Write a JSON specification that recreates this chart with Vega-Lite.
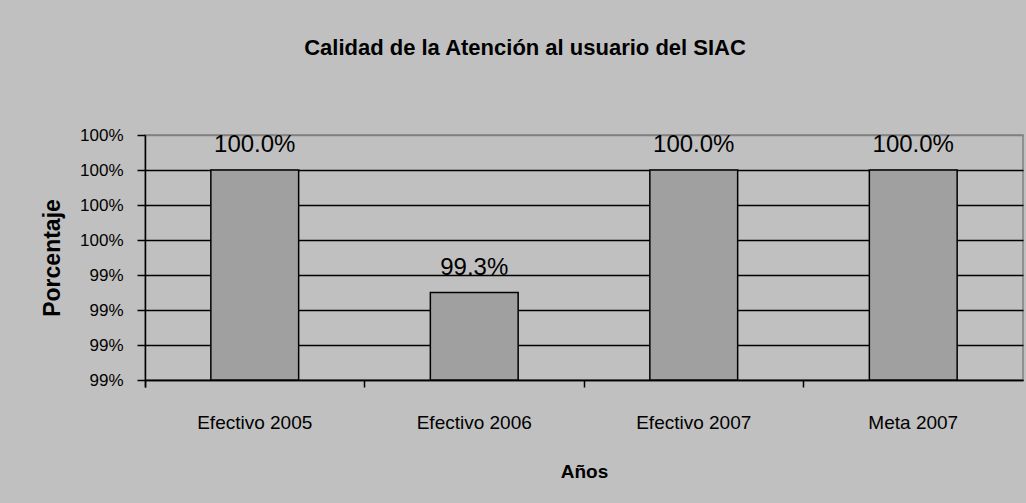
{
  "$schema": "https://vega.github.io/schema/vega-lite/v6.json",
  "width": 878,
  "height": 245,
  "autosize": {"type": "none"},
  "padding": {"left": 145, "top": 135, "right": 3, "bottom": 123},
  "background": "#c0c0c0",
  "config": {
    "font": "Liberation Sans",
    "view": {"stroke": "#808080", "strokeWidth": 1.5},
    "axis": {"labelColor": "black", "titleColor": "black", "domainColor": "black", "tickColor": "black", "domainWidth": 1.5, "tickWidth": 1.5}
  },
  "title": {
    "text": "Calidad de la Atención al usuario del SIAC",
    "fontSize": 22,
    "fontWeight": "bold",
    "color": "black",
    "anchor": "middle",
    "dx": -59,
    "baseline": "alphabetic",
    "offset": 49
  },
  "data": {
    "values": [
      {"categoria": "Efectivo 2005", "valor": 1.0},
      {"categoria": "Efectivo 2006", "valor": 0.993},
      {"categoria": "Efectivo 2007", "valor": 1.0},
      {"categoria": "Meta 2007", "valor": 1.0}
    ]
  },
  "encoding": {
    "x": {
      "field": "categoria",
      "type": "nominal",
      "sort": null,
      "scale": {"paddingInner": 0, "paddingOuter": 0},
      "axis": {
        "title": "Años",
        "titleFontSize": 19,
        "titleFontWeight": "bold",
        "titlePadding": 30,
        "labelAngle": 0,
        "labelFontSize": 19,
        "labelFontWeight": "normal",
        "labelPadding": 26,
        "tickSize": 7,
        "bandPosition": 0,
        "tickExtra": true,
        "grid": false
      }
    },
    "y": {
      "field": "valor",
      "type": "quantitative",
      "scale": {"domain": [0.988, 1.002], "nice": false, "zero": false},
      "axis": {
        "title": "Porcentaje",
        "titleFontSize": 23,
        "titleFontWeight": "bold",
        "titlePadding": 15,
        "values": [0.988, 0.99, 0.992, 0.994, 0.996, 0.998, 1.0, 1.002],
        "format": ".0%",
        "labelFontSize": 17,
        "labelPadding": 14,
        "tickSize": 8,
        "grid": true,
        "gridWidth": 1.5,
        "gridOpacity": 1,
        "gridColor": {"condition": {"test": "datum.value > 1.001", "value": "#808080"}, "value": "black"}
      }
    }
  },
  "layer": [
    {
      "mark": {"type": "bar", "width": {"band": 0.4}, "fill": "#a0a0a0", "stroke": "black", "strokeWidth": 1.5},
      "encoding": {"y2": {"datum": 0.988}}
    },
    {
      "mark": {"type": "text", "baseline": "alphabetic", "dy": -18, "fontSize": 24, "color": "black"},
      "encoding": {"text": {"field": "valor", "type": "quantitative", "format": ".1%"}}
    }
  ]
}
